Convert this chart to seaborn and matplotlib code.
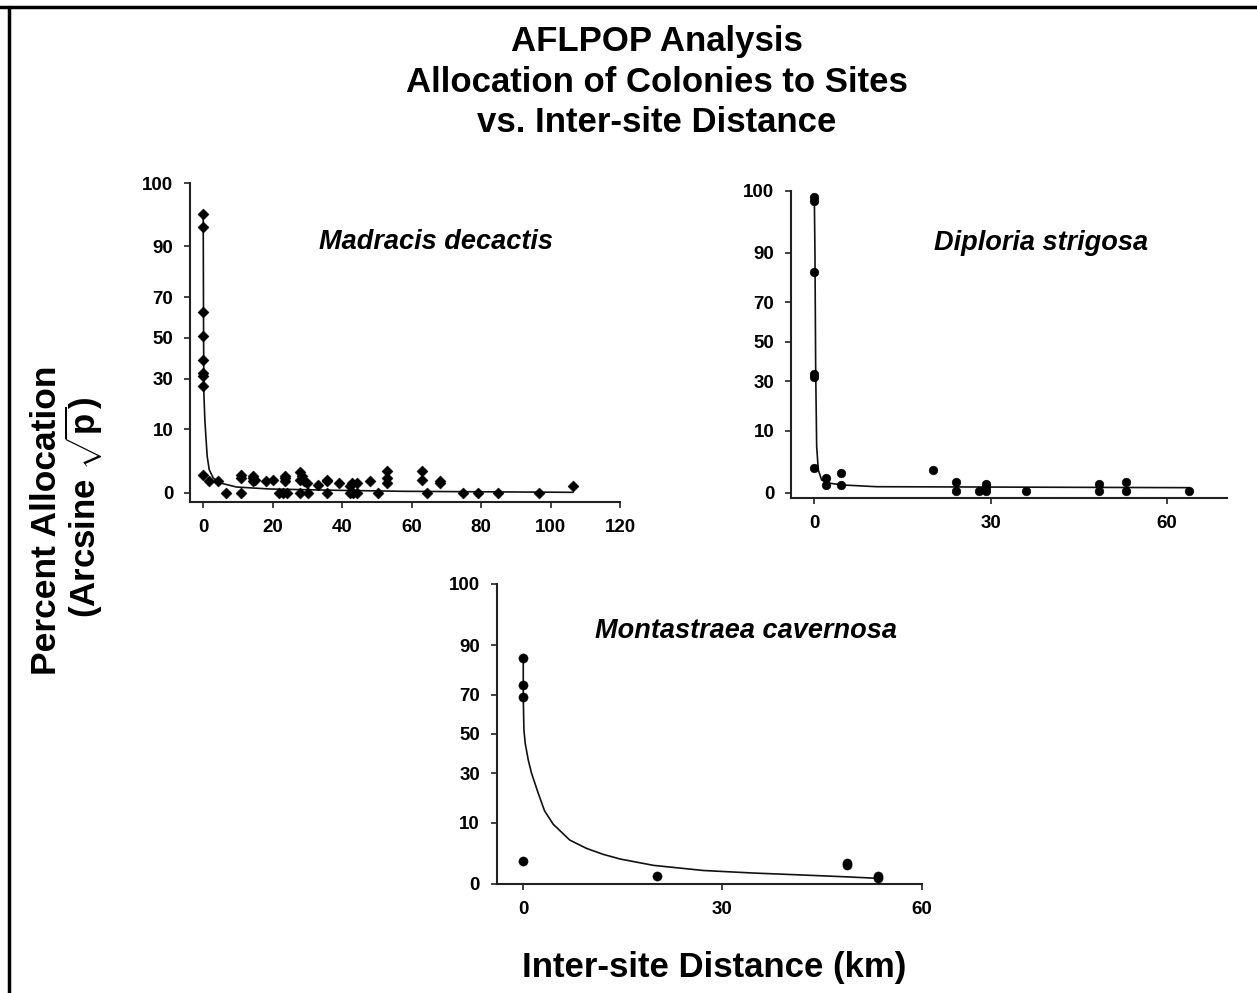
import numpy as np
import matplotlib
matplotlib.use("Agg")
import matplotlib.pyplot as plt
from matplotlib.lines import Line2D
import seaborn as sns

# ---------------- data (percent allocation vs inter-site distance, km) ----------------
mad_x = [0, 0, 0, 0, 0, 0, 0, 0, 0, 1.7, 4.3, 6.7, 11, 11, 11, 14.4, 14.4, 14.4, 14.8,
         18.2, 20.2, 21.9, 23, 23.5, 23.5, 23.5, 24, 27.8, 27.8, 27.8, 28.5, 29, 29.8, 30.2,
         33, 35.5, 35.5, 35.5, 39, 42.2, 42.2, 42.7, 43.2, 44.2, 44.4, 48, 50.2,
         52.8, 52.8, 52.8, 62.9, 62.9, 64.3, 68.3, 68.3, 74.9, 79.2, 84.9, 96.7, 106.5]
mad_y = [97.6, 95.0, 63.2, 51.2, 39.0, 32.5, 31.3, 26.7, 0.86, 0.35, 0.35, 0.0, 0.57, 0.86, 0.0,
         0.57, 0.35, 0.70, 0.45, 0.35, 0.40, 0.0, 0.0, 0.57, 0.35, 0.77, 0.0, 1.09, 0.45, 0.0,
         0.75, 0.35, 0.26, 0.0, 0.18, 0.35, 0.45, 0.0, 0.26, 0.13, 0.0, 0.26, 0.0, 0.26, 0.0,
         0.35, 0.0, 1.19, 0.57, 0.26, 1.19, 0.40, 0.0, 0.35, 0.26, 0.0, 0.0, 0.0, 0.0, 0.11]
mad_fit_x = [0, 0.1, 0.19, 0.48, 0.77, 1.15, 1.73, 2.9, 4.8, 9.6, 19.2, 38.4, 57.6, 106.5]
mad_fit_y = [97.6, 55.7, 23.5, 13.1, 8.0, 3.4, 1.39, 0.57, 0.26, 0.09, 0.04, 0.018, 0.007, 0.001]

dip_x = [0, 0, 0, 0, 0, 0, 2.0, 2.0, 4.5, 4.5, 20.2, 24.1, 24.1, 28.1, 29.3, 29.3, 29.3,
         36.0, 48.5, 48.5, 53.1, 53.1, 63.8]
dip_y = [99.9, 99.7, 83.3, 33.5, 32.2, 1.59, 0.55, 0.16, 1.08, 0.16, 1.38, 0.29, 0.01, 0.01,
         0.19, 0.095, 0.01, 0.01, 0.19, 0.01, 0.29, 0.01, 0.01]
dip_fit_x = [0, 0.11, 0.23, 0.4, 0.68, 1.25, 2.67, 4.9, 10.6, 63.9]
dip_fit_y = [99.9, 89.7, 35.5, 5.6, 1.38, 0.43, 0.24, 0.16, 0.097, 0.068]

mon_x = [0, 0, 0, 0, 20.2, 48.7, 48.7, 53.4, 53.4]
mon_y = [85.6, 74.5, 69.1, 1.44, 0.19, 1.24, 0.98, 0.19, 0.088]
mon_fit_x = [0, 0, 0.1, 0.3, 0.75, 1.25, 2.26, 3.2, 4.5, 7.0, 9.5, 12.0, 14.6, 19.6, 27.1, 34.6,
             42.2, 48.7, 53.4]
mon_fit_y = [85.6, 69.0, 52.1, 45.0, 36.6, 30.0, 20.9, 14.0, 9.5, 5.2, 3.45, 2.4, 1.7, 0.95,
             0.50, 0.33, 0.22, 0.14, 0.088]

y_ticks = [0, 10, 30, 50, 70, 90, 100]

titles = ["AFLPOP Analysis", "Allocation of Colonies to Sites", "vs. Inter-site Distance"]
species = ["Madracis decactis", "Diploria strigosa", "Montastraea cavernosa"]

# ---------------- styling ----------------
sns.set_theme(style="white")
plt.rcParams["font.family"] = ["Liberation Sans", "DejaVu Sans"]
plt.rcParams["mathtext.fontset"] = "custom"
plt.rcParams["mathtext.rm"] = "Liberation Sans"
plt.rcParams["mathtext.it"] = "Liberation Sans"
plt.rcParams["mathtext.bf"] = "Liberation Sans:bold"
plt.rcParams["text.color"] = "black"
plt.rcParams["axes.labelcolor"] = "black"
plt.rcParams["xtick.color"] = "black"
plt.rcParams["ytick.color"] = "black"


def fwd(y):
    y = np.asarray(y, dtype=float)
    return np.sign(y) * np.degrees(np.arcsin(np.sqrt(np.clip(np.abs(y) / 100.0, 0, 1))))


def inv(t):
    t = np.asarray(t, dtype=float)
    return np.sign(t) * np.sin(np.radians(np.clip(np.abs(t), 0, 90))) ** 2 * 100.0


W, H = 1257, 993
fig = plt.figure(figsize=(W / 100, H / 100), dpi=100)
fig.patch.set_facecolor("white")


def px_axes(left, top, right, bottom):
    return fig.add_axes([left / W, 1 - bottom / H, (right - left) / W, (bottom - top) / H])


panels = [
    dict(box=(190, 183, 620, 502), xlim=(-3.8, 120), ylim=(-0.21, 100), xticks=[0, 20, 40, 60, 80, 100, 120],
         x=mad_x, y=mad_y, fx=mad_fit_x, fy=mad_fit_y, marker="D", s=32, name=species[0], tpos=(0.572, 0.815)),
    dict(box=(791, 190.7, 1226.7, 498.3), xlim=(-3.97, 70.2), ylim=(-0.085, 100), xticks=[0, 30, 60],
         x=dip_x, y=dip_y, fx=dip_fit_x, fy=dip_fit_y, marker="o", s=40, name=species[1], tpos=(0.574, 0.83)),
    dict(box=(496.7, 584, 921.7, 884), xlim=(-4.0, 60), ylim=(0, 100), xticks=[0, 30, 60],
         x=mon_x, y=mon_y, fx=mon_fit_x, fy=mon_fit_y, marker="o", s=44, name=species[2], tpos=(0.587, 0.843)),
]

for p in panels:
    ax = px_axes(*p["box"])
    ax.set_facecolor("white")
    ax.set_yscale("function", functions=(fwd, inv))
    sns.lineplot(x=p["fx"], y=p["fy"], ax=ax, color="#111111", lw=1.2, sort=False, estimator=None)
    sns.scatterplot(x=p["x"], y=p["y"], ax=ax, color="black", marker=p["marker"], s=p["s"],
                    edgecolor="black", linewidth=0.3, zorder=3)
    ax.set_xlim(*p["xlim"])
    ax.set_ylim(*p["ylim"])
    ax.set_xticks(p["xticks"])
    ax.set_yticks(y_ticks)
    ax.set_yticklabels([str(v) for v in y_ticks])
    ax.minorticks_off()
    for side in ["top", "right"]:
        ax.spines[side].set_visible(False)
    for side in ["left", "bottom"]:
        ax.spines[side].set_color("#222222")
        ax.spines[side].set_linewidth(1.5)
    ax.tick_params(axis="both", which="major", direction="out", length=4, width=1.2, color="#222222",
                   labelsize=13.5, pad=8, bottom=True, left=True, labelcolor="black")
    for lab in ax.get_xticklabels() + ax.get_yticklabels():
        lab.set_fontweight("bold")
    ax.set_xlabel("")
    ax.set_ylabel("")
    ax.text(p["tpos"][0], p["tpos"][1], p["name"], transform=ax.transAxes, ha="center", va="center",
            fontsize=19.5, fontweight="bold", fontstyle="italic")

# Titles
for txt, yy in zip(titles, [42, 82, 123]):
    fig.text(657 / W, 1 - yy / H, txt, ha="center", va="center", fontsize=25, fontweight="bold")

# Axis labels
fig.text(46 / W, 1 - 520 / H, "Percent Allocation", rotation=90, ha="center", va="center",
         fontsize=25.5, fontweight="bold")
fig.text(84 / W, 1 - 508 / H, r"(Arcsine $\sqrt{\mathbf{p}}$)", rotation=90, ha="center", va="center",
         fontsize=25, fontweight="bold")
fig.text(714 / W, 1 - 967 / H, "Inter-site Distance (km)", ha="center", va="center",
         fontsize=25, fontweight="bold")

# Outer frame (top and left edges)
fig.add_artist(Line2D([0, 1], [1 - 7 / H, 1 - 7 / H], transform=fig.transFigure, color="black", lw=2.5))
fig.add_artist(Line2D([8.5 / W, 8.5 / W], [0, 1 - 7 / H], transform=fig.transFigure, color="black", lw=2.5))

fig.savefig("out.png", dpi=100, facecolor="white")
